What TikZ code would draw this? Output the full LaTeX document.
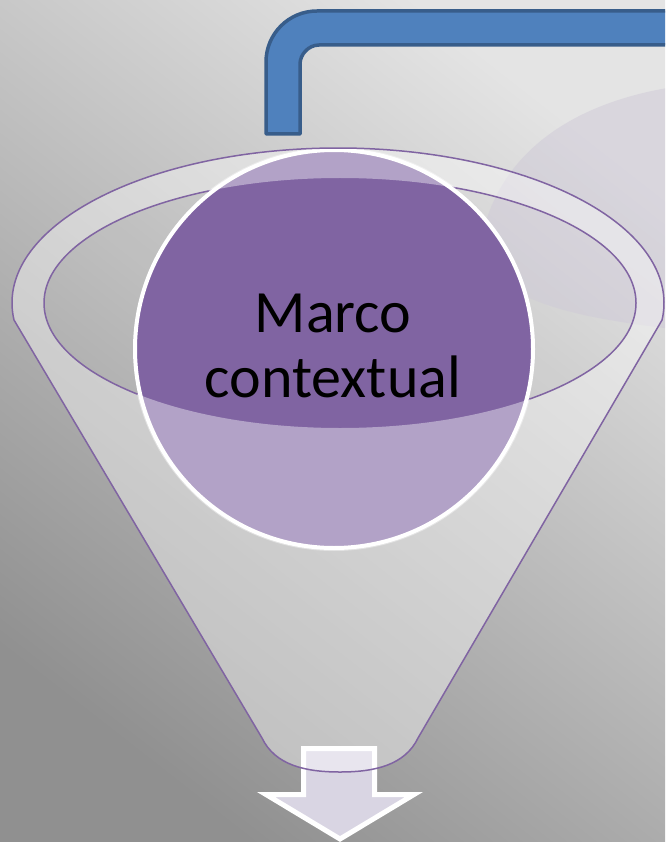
\documentclass[tikz,border=0pt]{standalone}
\usepackage{fontspec}
\setmainfont{Carlito}
\definecolor{bgLight}{HTML}{E4E4E4}
\definecolor{bgDark}{HTML}{909090}
\definecolor{pipeBlue}{HTML}{4F81BD}
\definecolor{pipeEdge}{HTML}{385D8A}
\definecolor{fPurple}{HTML}{8064A2}
\definecolor{arrowFill}{HTML}{D9D5E3}
\definecolor{lavTint}{HTML}{CCC6D6}
\newcommand\funnelPath{(14,320) arc[start angle=173.7, end angle=366.3, x radius=326, y radius=155] -- (418,738) .. controls (405,765) and (375,772) .. (340,772) .. controls (305,772) and (275,765) .. (262,738) -- cycle}
\newcommand\innerEll{(340,303) ellipse [x radius=296, y radius=125]}
\begin{document}
\begin{tikzpicture}[x=1pt,y=-1pt,
  pipestyle/.style={fill=pipeBlue, draw=pipeEdge, line width=3.5pt, line join=round},
  arrowstyle/.style={fill=arrowFill, draw=white, line width=5pt, line join=miter},
  overlay/.style={fill=white, fill opacity=0.4, even odd rule},
  outline/.style={draw=fPurple, line width=1.5pt},
  ballstyle/.style={circle, fill=fPurple, draw=white, line width=4pt, minimum size=398pt, inner sep=0pt}]
\useasboundingbox (0,0) rectangle (665,842);
\clip (0,0) rectangle (665,842);
% background
\shade[top color=bgLight, bottom color=bgDark, shading angle=-38] (0,0) rectangle (665,842);
\fill[lavTint, opacity=0.45] (478,262) .. controls (488,150) and (580,100) .. (680,86) -- (680,330) .. controls (600,320) and (520,310) .. cycle;
% pipe
\draw[pipestyle] (266,134) -- (266,62) .. controls (266,33.8) and (288.8,11) .. (317,11) -- (700,11) -- (700,45) -- (319,45) .. controls (308.5,45) and (300,54.5) .. (300,64) -- (300,134) -- cycle;
% arrow
\draw[arrowstyle] (303.5,748.5) -- (374.5,748.5) -- (374.5,794.5) -- (414,794.5) -- (340,839) -- (266,794.5) -- (303.5,794.5) -- cycle;
% funnel front overlay
\fill[overlay] \funnelPath \innerEll;
\fill[white, fill opacity=0.06] \innerEll;
\draw[outline] \innerEll;
% ball
\node[ballstyle] (ball) at (334,349) {};
\begin{scope}
  \clip (334,349) circle [radius=202];
  \fill[overlay] \funnelPath \innerEll;
\end{scope}
\draw[outline] \funnelPath;
\node[font=\fontsize{60}{65}\selectfont, align=center, text=black, inner sep=0pt] (label) at (333,346) {Marco\\contextual};
\end{tikzpicture}
\end{document}
